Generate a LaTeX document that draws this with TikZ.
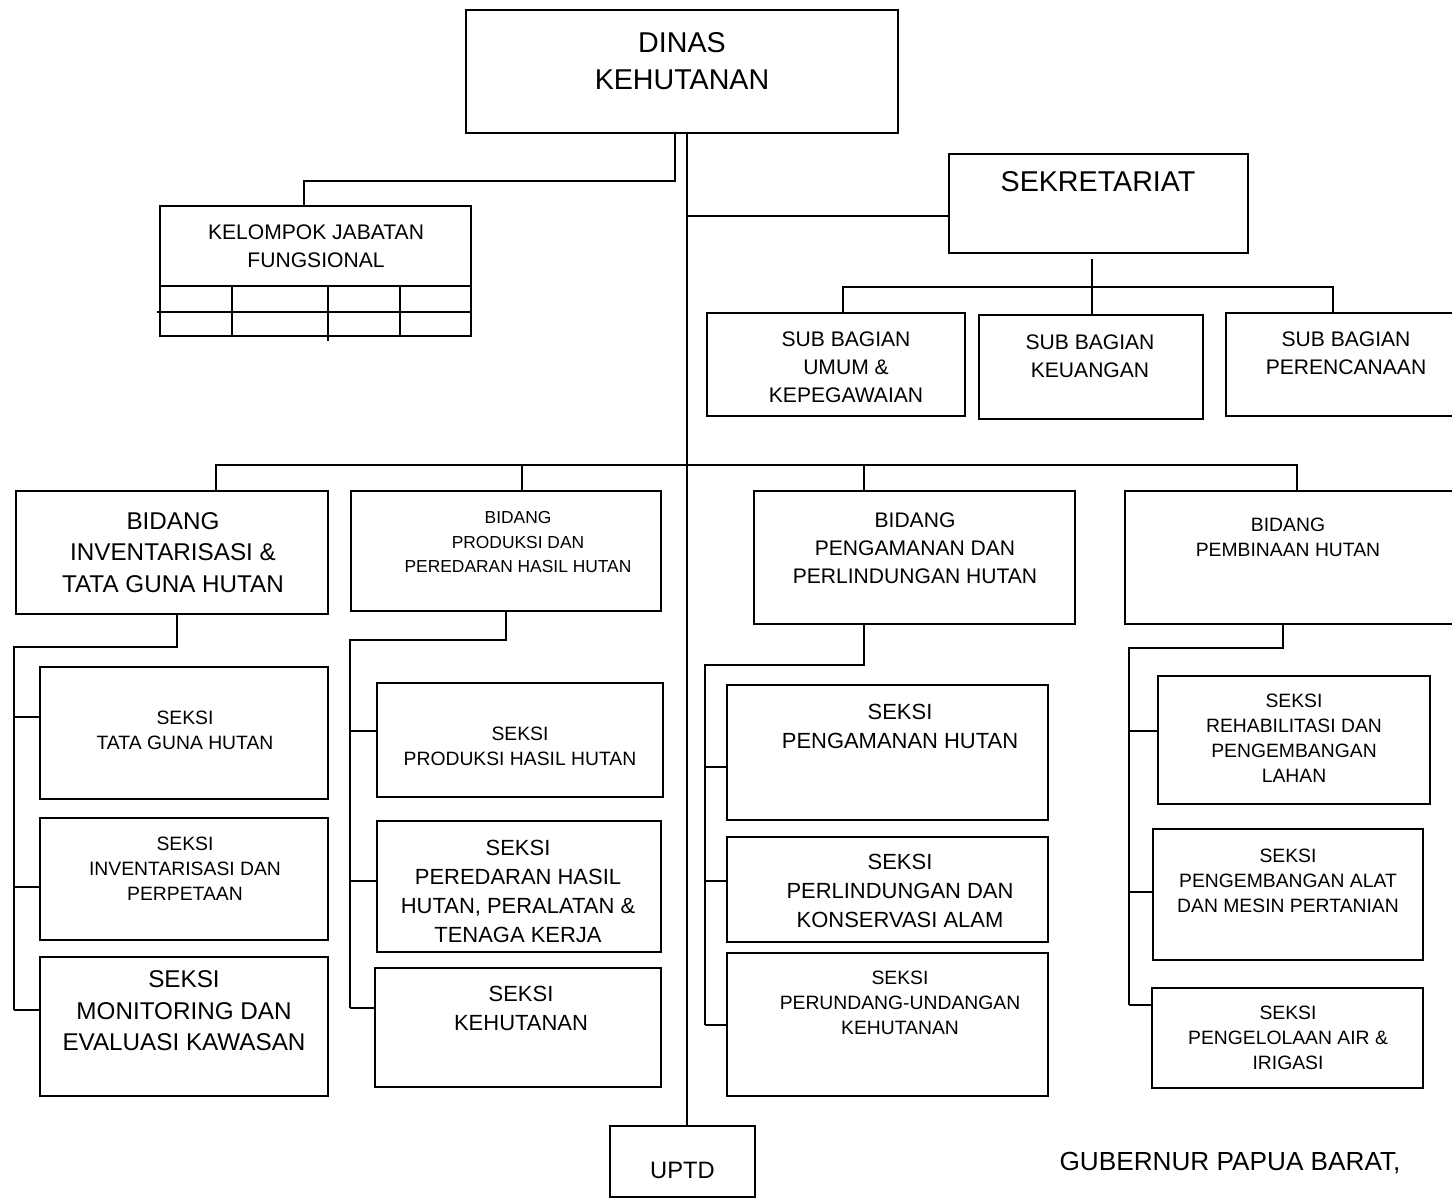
\documentclass[tikz,border=0pt]{standalone}
\usepackage{fontspec}
\setmainfont{Liberation Sans}
\usetikzlibrary{calc}

% box from (x1,y1) to (x2,y2) in pixels, text at (tx,ty)
\newcommand{\orgbox}[9]{%
  \node[orgbox, minimum width={(#4-#2)*0.02cm}, minimum height={(#5-#3)*0.02cm}]
    (#1) at ({(#2+#4)/2},{(#3+#5)/2}) {};
  \node[#6] (#1-text) at (#7,#8) {#9};}

\begin{document}
\begin{tikzpicture}[x=0.02cm, y=-0.02cm, line width=1.1pt,
                    orgbox/.style={rectangle, draw=black, inner sep=0pt},
                    txt/.style={align=center, inner sep=0pt},
                    bigtxt/.style={txt, font=\fontsize{16.3}{21}\selectfont},
                    bidtxt/.style={txt, font=\fontsize{13.8}{17.9}\selectfont},
                    midtxt/.style={txt, font=\fontsize{12.5}{16.4}\selectfont},
                    subtxt/.style={txt, font=\fontsize{12}{16}\selectfont},
                    smalltxt/.style={txt, font=\fontsize{11}{14.2}\selectfont},
                    tinytxt/.style={txt, font=\fontsize{9.9}{14.2}\selectfont}]
\useasboundingbox (0,0) rectangle (1452,1201);

% pimpinan
\orgbox{dinas}{466}{10}{898}{133}{bigtxt}{682}{61.5}{DINAS\\KEHUTANAN}
\orgbox{sekr}{949}{154}{1248}{253}{bigtxt}{1098}{182}{SEKRETARIAT}
\orgbox{kjf}{160}{206}{471}{336}{subtxt}{316}{246.5}{KELOMPOK JABATAN\\FUNGSIONAL}
\draw (160,286) -- (471,286);
\draw (157,312) -- (471,312);
\foreach \x/\e in {232/336, 328/341, 400/336}
  \draw (\x,286) -- (\x,\e);

% sub bagian
\orgbox{subumum}{707}{313}{965}{416}{subtxt}{846}{367.5}{SUB BAGIAN\\UMUM \&\\KEPEGAWAIAN}
\orgbox{subkeu}{979}{315}{1203}{419}{subtxt}{1090}{356}{SUB BAGIAN\\KEUANGAN}
\orgbox{subper}{1226}{313}{1454}{416}{subtxt}{1346}{353}{SUB BAGIAN\\PERENCANAAN}

% bidang
\orgbox{bidinv}{16}{491}{328}{614}{bidtxt}{173}{552.5}{BIDANG\\INVENTARISASI \&\\TATA GUNA HUTAN}
\orgbox{bidprod}{351}{491}{661}{611}{tinytxt}{518}{542}{BIDANG\\PRODUKSI DAN\\PEREDARAN HASIL HUTAN}
\orgbox{bidpeng}{754}{491}{1075}{624}{subtxt}{915}{548}{BIDANG\\PENGAMANAN DAN\\PERLINDUNGAN HUTAN}
\orgbox{bidpem}{1125}{491}{1454}{624}{smalltxt}{1288}{537}{BIDANG\\PEMBINAAN HUTAN}

% seksi
\orgbox{s11}{40}{667}{328}{799}{smalltxt}{185}{730.5}{SEKSI\\TATA GUNA HUTAN}
\orgbox{s12}{40}{818}{328}{940}{smalltxt}{185}{868.5}{SEKSI\\INVENTARISASI DAN\\PERPETAAN}
\orgbox{s13}{40}{957}{328}{1096}{bidtxt}{184}{1011}{SEKSI\\MONITORING DAN\\EVALUASI KAWASAN}
\orgbox{s21}{377}{683}{663}{797}{smalltxt}{520}{746.5}{SEKSI\\PRODUKSI HASIL HUTAN}
\orgbox{s22}{377}{821}{661}{952}{midtxt}{518}{891.5}{SEKSI\\PEREDARAN HASIL\\HUTAN, PERALATAN \&\\TENAGA KERJA}
\orgbox{s23}{375}{968}{661}{1087}{midtxt}{521}{1008.5}{SEKSI\\KEHUTANAN}
\orgbox{s31}{727}{685}{1048}{820}{midtxt}{900}{726.5}{SEKSI\\PENGAMANAN HUTAN}
\orgbox{s32}{727}{837}{1048}{942}{midtxt}{900}{891}{SEKSI\\PERLINDUNGAN DAN\\KONSERVASI ALAM}
\orgbox{s33}{727}{953}{1048}{1096}{smalltxt}{900}{1003}{SEKSI\\PERUNDANG-UNDANGAN\\KEHUTANAN}
\orgbox{s41}{1158}{676}{1430}{804}{smalltxt}{1294}{738}{SEKSI\\REHABILITASI DAN\\PENGEMBANGAN\\LAHAN}
\orgbox{s42}{1153}{829}{1423}{960}{smalltxt}{1288}{881}{SEKSI\\PENGEMBANGAN ALAT\\DAN MESIN PERTANIAN}
\orgbox{s43}{1152}{988}{1423}{1088}{smalltxt}{1288}{1038}{SEKSI\\PENGELOLAAN AIR \&\\IRIGASI}

\orgbox{uptd}{610}{1126}{755}{1197}{txt, font=\fontsize{13.5}{17}\selectfont}{682.5}{1170}{UPTD}
\node[txt, font=\fontsize{14.9}{18}\selectfont] (gub) at (1230,1163) {GUBERNUR PAPUA BARAT,};

% garis komando
\coordinate (kj) at (675,181);
\draw (dinas.south -| kj) -- (kj) -| ([xshift=-0.23cm]kjf.north);
\coordinate (ms) at (687,216);
\draw (dinas.south -| ms) -- (uptd.north -| ms);
\draw (ms) -- (sekr.west |- ms);

\coordinate (sk0) at (1092,259);
\coordinate (sk) at (1092,287);
\draw (sk0) -- (subkeu.north -| sk0);
\draw ([xshift=0.14cm]subumum.north) |- (sk) -| ([xshift=-0.14cm]subper.north);

\coordinate (bl) at (216,465);
\coordinate (br) at (1297,465);
\coordinate (bp) at (522,465);
\coordinate (bg) at (864,465);
\draw (bidinv.north -| bl) -- (bl) -- (br) -- (bidpem.north -| br);
\draw (bidprod.north -| bp) -- (bp);
\draw (bidpeng.north -| bg) -- (bg);

% garis ke seksi
\foreach \bid/\dx/\hy/\sx/\ey in {bidinv/177/647/14/1010, bidprod/506/640/350/1008,
                                  bidpeng/864/665/705/1025, bidpem/1283/648/1129/1005} {
  \coordinate (d) at (\dx,\hy);
  \coordinate (h) at (\sx,\hy);
  \coordinate (e) at (\sx,\ey);
  \draw (\bid.south -| d) -- (d) -- (h) -- (e);
}
\foreach \s/\x/\y in {s11/14/717, s12/14/887, s13/14/1010,
                      s21/350/731, s22/350/881, s23/350/1008,
                      s31/705/767, s32/705/881, s33/705/1025,
                      s41/1129/731, s42/1129/892, s43/1129/1005} {
  \coordinate (t) at (\x,\y);
  \draw (t) -- (\s.west |- t);
}
\end{tikzpicture}
\end{document}
